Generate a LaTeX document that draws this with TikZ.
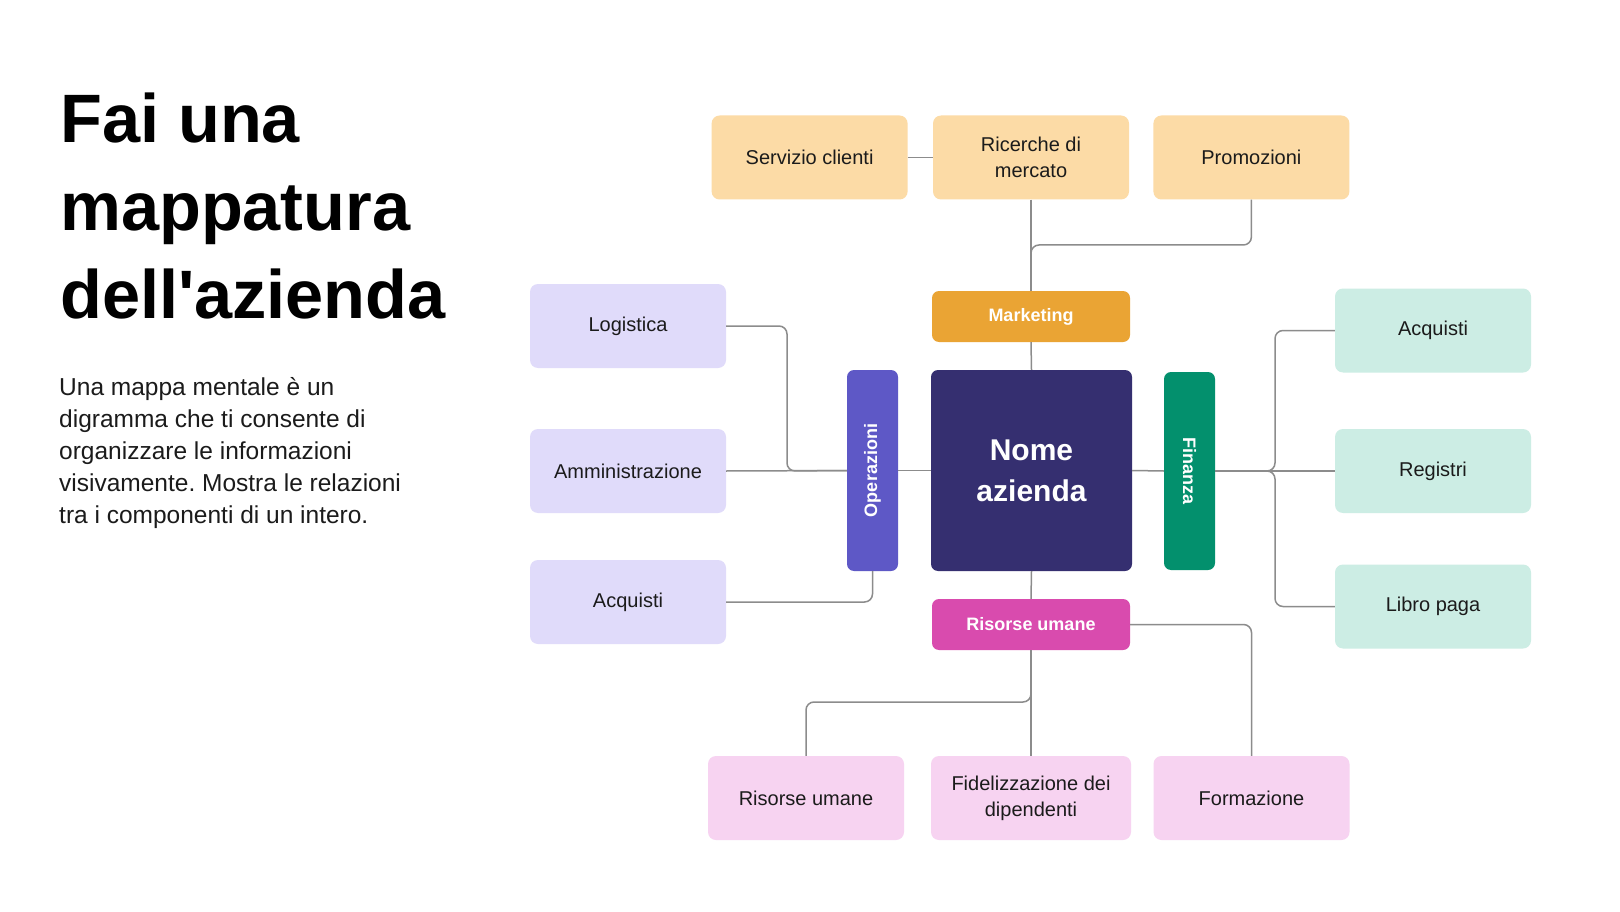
\documentclass[tikz,border=0pt]{standalone}
\usepackage{fontspec}
\setmainfont{Liberation Sans}
\usepackage{graphicx}
\usetikzlibrary{positioning}
\frenchspacing

\definecolor{peach}{HTML}{FCDBA6}
\definecolor{mktorange}{HTML}{EAA434}
\definecolor{lavender}{HTML}{E0DBFA}
\definecolor{opsblue}{HTML}{5E58C6}
\definecolor{navy}{HTML}{352F70}
\definecolor{fingreen}{HTML}{03906D}
\definecolor{mint}{HTML}{CCEDE4}
\definecolor{hrmagenta}{HTML}{D94BAE}
\definecolor{pinklight}{HTML}{F7D3F1}
\definecolor{linkgray}{HTML}{8C8C8C}
\definecolor{ink}{HTML}{1B1B1B}

\begin{document}
\begin{tikzpicture}[x=1pt, y=-1pt, node distance=24pt,
    leaf/.style={rounded corners=8pt, minimum width=196pt, minimum
      height=84pt, align=center, text=ink,
      font=\fontsize{20}{26}\selectfont},
    mktleaf/.style={leaf, fill=peach}, opsleaf/.style={leaf, fill=lavender},
    finleaf/.style={leaf, fill=mint}, hrleaf/.style={leaf, fill=pinklight},
    branch/.style={rounded corners=7pt, minimum width=198pt, minimum
      height=51pt, text=white, font=\fontsize{18}{22}\selectfont\bfseries},
    bar/.style={rounded corners=7pt, minimum width=51pt, minimum
      height=201pt, text=white, font=\fontsize{18}{22}\selectfont\bfseries},
    link/.style={draw=linkgray, line width=1.5pt, rounded corners=8pt} ]

    \fill[white] (0,0) rectangle (1620,912);
    \useasboundingbox (0,0) rectangle (1620,912);

    % Title and text on the left
    \node[anchor=north west, inner sep=0, align=left, text=black,
    font=\fontsize{68.5}{88}\selectfont\bfseries] (title) at (60,93)
    {Fai una\\mappatura\\dell\textquotesingle azienda};
    \node[anchor=base west, inner sep=0, align=left, text=ink,
    font=\fontsize{24.5}{32}\selectfont] (intro) at (59,523) {Una mappa
    mentale è un\\digramma che ti consente di\\organizzare le
    informazioni\\visivamente. Mostra le relazioni\\tra i componenti di un
    intero.};

    % Company in the middle
    \node[fill=navy, rounded corners=7pt, minimum width=201pt, minimum
    height=201pt, align=center, text=white,
    font=\fontsize{30}{41}\selectfont\bfseries] (nome) at (1031.5,470.5)
    {Nome\\azienda};

    % Branches round it
    \node[branch, fill=mktorange] (marketing) at (1031,316.5) {Marketing};
    \node[branch, fill=hrmagenta] (risorse) at (1031,624.5) {Risorse umane};
    \node[bar, fill=opsblue] (operazioni) at (872.5,470.5)
    {\rotatebox{90}{Operazioni}};
    \node[bar, fill=fingreen, minimum height=198pt] (finanza) at
    (1189.5,471) {\rotatebox{-90}{Finanza}};

    % Marketing leaves
    \node[mktleaf] (ricerche) at (1031,157.5) {Ricerche di\\mercato};
    \node[mktleaf, left=25pt of ricerche] (servizio) {Servizio clienti};
    \node[mktleaf, right=24pt of ricerche] (promozioni) {Promozioni};

    % Operazioni leaves
    \node[opsleaf] (logistica) at (628,326) {Logistica};
    \node[opsleaf] (ammin) at (628,471) {Amministrazione};
    \node[opsleaf] (acquistiL) at (628,602) {Acquisti};

    % Finanza leaves
    \node[finleaf] (acquistiR) at (1433,330.5) {Acquisti};
    \node[finleaf] (registri) at (1433,471) {Registri};
    \node[finleaf] (libro) at (1433,606.5) {Libro paga};

    % Risorse umane leaves
    \node[hrleaf] (risorseB) at (806,798) {Risorse umane};
    \node[hrleaf, minimum width=200pt] (fidel) at (1031,798)
    {Fidelizzazione dei\\dipendenti};
    \node[hrleaf] (formazione) at (1251.5,798) {Formazione};

    % Bends of the connectors
    \coordinate (mktjoin) at (1031,245);
    \coordinate (opsbend) at (787,471);
    \coordinate (finbend) at (1275,471);
    \coordinate (hrbend) at (1031,702);

    % Connectors
    \draw[link] (servizio.east) -- (ricerche.west);
    \draw[link] (ricerche.south) -- (marketing.north);
    \draw[link] (promozioni.south) |- (mktjoin) -- (marketing.north);
    \draw[link] (marketing.south) -- (nome.north);

    \draw[link] (logistica.east) -| (opsbend) -- (operazioni.west);
    \draw[link] (ammin.east) -- (operazioni.west);
    \draw[link] (acquistiL.east) -| (operazioni.south);
    \draw[link] (operazioni.east) -- (nome.west);

    \draw[link] (nome.east) -- (finanza.west);
    \draw[link] (finanza.east) -- (registri.west);
    \draw[link] (finanza.east) -| (finbend |- acquistiR.west) --
    (acquistiR.west);
    \draw[link] (finanza.east) -| (finbend |- libro.west) -- (libro.west);

    \draw[link] (nome.south) -- (risorse.north);
    \draw[link] (risorse.south) -- (fidel.north);
    \draw[link] (risorse.south) -- (hrbend) -| (risorseB.north);
    \draw[link] (risorse.east) -| (formazione.north);

\end{tikzpicture}
\end{document}
